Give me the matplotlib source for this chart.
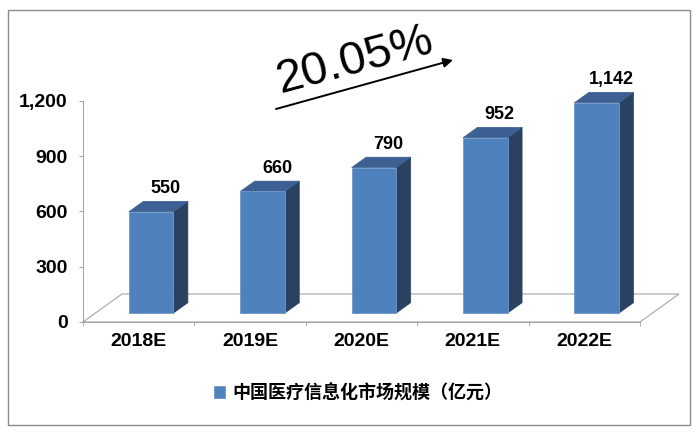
import numpy as np
import matplotlib
matplotlib.use('Agg')
import matplotlib.pyplot as plt
from matplotlib.patches import Rectangle, Polygon

years = ['2018E', '2019E', '2020E', '2021E', '2022E']
market_size = [550, 660, 790, 952, 1142]
y_ticks = [0, 300, 600, 900, 1200]
growth_label = '20.05%'
series_name = '中国医疗信息化市场规模（亿元）'

plt.rcParams['font.family'] = ['Liberation Sans', 'DejaVu Sans']

FRONT = '#4F81BD'
TOP = '#3C6091'
SIDE = '#2A4162'
GRID = '#A6A6A6'

fig = plt.figure(figsize=(7, 4.37), dpi=100)
ax = fig.add_axes([83 / 700, 1 - 322 / 437, 557 / 700, 221 / 437])
ax.set_xlim(-0.5, len(years) - 0.5)
ax.set_ylim(0, 1200)

# floor depth in data units (pseudo 3d)
DX = 0.35
DY = 152
f0, f1 = 0.32, 0.69
w = 0.40

floor = Polygon([(-0.5, 0), (len(years) - 0.5, 0),
                 (len(years) - 0.5 + DX, DY), (-0.5 + DX, DY)],
                closed=True, fill=False, edgecolor=GRID, lw=0.8,
                clip_on=False, zorder=1)
ax.add_patch(floor)

ox, oy = DX * f0, DY * f0
bx, by = DX * f1, DY * f1
for i, v in enumerate(market_size):
    x0 = i - w / 2
    x1 = i + w / 2
    side = Polygon([(x1 + ox, oy), (x1 + bx, by), (x1 + bx, v + by), (x1 + ox, v + oy)],
                   closed=True, facecolor=SIDE, edgecolor=SIDE, lw=0.5, clip_on=False, zorder=3)
    top = Polygon([(x0 + ox, v + oy), (x1 + ox, v + oy), (x1 + bx, v + by), (x0 + bx, v + by)],
                  closed=True, facecolor=TOP, edgecolor=TOP, lw=0.5, clip_on=False, zorder=3)
    front = Rectangle((x0 + ox, oy), w, v, facecolor=FRONT, edgecolor='#6E97CC', lw=0.6,
                      clip_on=False, zorder=4, label=series_name if i == 0 else None)
    ax.add_patch(side)
    ax.add_patch(top)
    ax.add_patch(front)
    ax.text(i + bx, v + by + 25, f'{v:,}', ha='center', va='bottom',
            fontsize=13, fontweight='bold', color='black', zorder=5)

for s in ['top', 'right']:
    ax.spines[s].set_visible(False)
for s in ['left', 'bottom']:
    ax.spines[s].set_color(GRID)
    ax.spines[s].set_linewidth(0.8)

ax.set_yticks(y_ticks)
ax.set_yticklabels([f'{t:,}' for t in y_ticks], fontsize=14, fontweight='bold')
ax.set_xticks(np.arange(len(years)))
ax.set_xticklabels(years, fontsize=14, fontweight='bold')
ax.set_xticks(np.arange(len(years) + 1) - 0.5, minor=True)
ax.tick_params(axis='x', which='major', length=0, pad=8)
ax.tick_params(axis='x', which='minor', length=3, color=GRID, direction='out')
ax.tick_params(axis='y', length=3, color=GRID, pad=8)

# CAGR annotation
fig.text(355 / 700, 1 - 61 / 437, growth_label, fontsize=34, rotation=15,
         ha='center', va='center', color='black')
ax.annotate('', xy=(453 / 700, 1 - 60 / 437), xytext=(276 / 700, 1 - 109 / 437),
            xycoords='figure fraction', textcoords='figure fraction',
            arrowprops=dict(arrowstyle='-|>', color='black', lw=1.4,
                            mutation_scale=14, shrinkA=0, shrinkB=0))

leg = fig.legend(loc='center', bbox_to_anchor=(358 / 700, 1 - 393 / 437),
                 frameon=False, handlelength=0.6, handleheight=0.6, handletextpad=0.4,
                 prop={'family': ['Noto Sans CJK SC', 'DejaVu Sans'], 'size': 13, 'weight': 'bold'})

fig.patches.append(Rectangle((8 / 700, 1 - 425 / 437), 682 / 700, 415 / 437,
                             transform=fig.transFigure, fill=False,
                             edgecolor='#8C8C8C', lw=1.0))

fig.savefig('out.png', dpi=100)
